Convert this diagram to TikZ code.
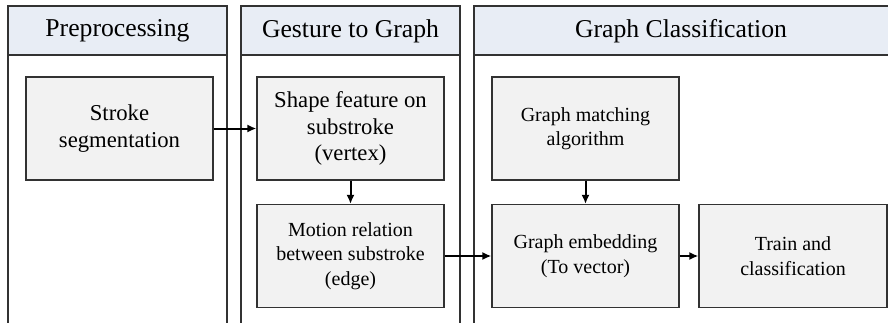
\documentclass[tikz,border=0pt]{standalone}
\usepackage{fontspec}
\setmainfont{Liberation Serif}
\usetikzlibrary{positioning,arrows.meta}
\definecolor{headfill}{RGB}{232,237,245}
\definecolor{boxfill}{RGB}{242,242,242}
\definecolor{edgegray}{RGB}{50,50,50}

\begin{document}
\begin{tikzpicture}[x=1pt,y=-1pt,
  lane/.style={draw=edgegray,line width=1.5pt},
  headtext/.style={font=\fontsize{25.7}{30}\selectfont},
  stepbox/.style={draw=edgegray,line width=1.2pt,fill=boxfill,align=center,
    minimum width=187pt,minimum height=103pt,inner sep=0pt},
  bigtext/.style={font=\fontsize{22.7}{26.5}\selectfont},
  smalltext/.style={font=\fontsize{20}{24.5}\selectfont},
  flow/.style={line width=2pt,-{Latex[length=9pt,width=8pt]}}]
\useasboundingbox (0,0) rectangle (888,322);
\clip (0,0) rectangle (888,322);
\fill [headfill] (8,6) rectangle (227,55);
\fill [headfill] (241,6) rectangle (460,55);
\fill [headfill] (474,6) rectangle (900,55);
\draw [lane] (8,330) -- (8,6) -- (227,6) -- (227,330);
\draw [lane] (241,330) -- (241,6) -- (460,6) -- (460,330);
\draw [lane] (474,330) -- (474,6) -- (900,6);
\draw [edgegray,line width=2pt] (8,55) -- (227,55);
\draw [edgegray,line width=2pt] (241,55) -- (460,55);
\draw [edgegray,line width=2pt] (474,55) -- (900,55);
\node [headtext] (hpre) at (117.5,31) {Preprocessing};
\node [headtext] (hgest) at (350.5,31) {Gesture to Graph};
\node [headtext] (hclass) at (681,31) {Graph Classification};
\node [stepbox,bigtext] (seg) at (119.5,128.5) {Stroke\\segmentation};
\node [stepbox,bigtext] (shape) at (350.5,128.5) {Shape feature on\\substroke\\(vertex)};
\node [stepbox,smalltext] (motion) at (350.5,256) {Motion relation\\between substroke\\(edge)};
\node [stepbox,smalltext] (match) at (585.5,128.5) {Graph matching\\algorithm};
\node [stepbox,smalltext] (embed) at (585.5,256) {Graph embedding\\(To vector)};
\node [stepbox,smalltext,minimum width=188pt] (train) at (793,256) {Train and\\classification};
\draw [flow] (seg) -- (shape);
\draw [flow] (shape) -- (motion);
\draw [flow] (motion) -- (embed);
\draw [flow] (match) -- (embed);
\draw [flow] (embed) -- (train);
\end{tikzpicture}
\end{document}
